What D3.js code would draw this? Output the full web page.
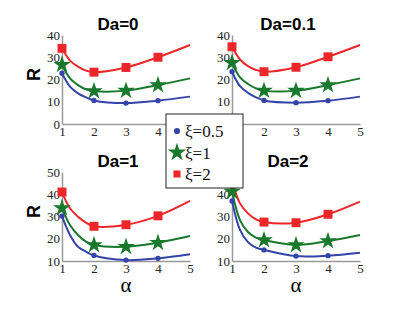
<!DOCTYPE html>
<html>
<head>
<meta charset="utf-8">
<script src="https://cdn.jsdelivr.net/npm/d3@7"></script>
<style>
  body { margin: 0; background: #fff; }
  svg { display: block; }
  .serif { font-family: "Liberation Serif", "Times New Roman", serif; }
  .sans { font-family: "Liberation Sans", Arial, sans-serif; font-weight: bold; }
</style>
</head>
<body>
<svg id="chart" width="394" height="315"></svg>
<script>
// alpha values where curve points were read, markers sit on whole alphas
var alphaCurve = [1, 1.25, 1.5, 1.75, 2, 3, 4, 5];
var markerAlphas = [1, 2, 3, 4];

// Da = 0
var da0Blue  = [22.8, 16.8, 13.8, 12.0, 10.6, 9.4, 10.5, 12.3];
var da0Green = [26.6, 20.5, 17.5, 15.6, 14.8, 15.0, 17.5, 20.5];
var da0Red   = [34.0, 28.5, 25.8, 24.0, 23.3, 25.4, 30.0, 35.5];
// Da = 0.1
var da01Blue  = [23.5, 17.0, 14.0, 12.0, 10.6, 9.6, 10.5, 12.3];
var da01Green = [27.5, 21.0, 18.0, 16.0, 15.0, 15.0, 17.5, 20.5];
var da01Red   = [34.7, 29.0, 26.0, 24.3, 23.5, 25.5, 30.2, 35.5];
// Da = 1
var da1Blue  = [30.2, 21.7, 16.4, 14.2, 12.5, 10.4, 11.2, 13.0];
var da1Green = [33.8, 26.2, 21.7, 18.7, 17.2, 16.4, 18.2, 21.2];
var da1Red   = [41.0, 33.7, 29.9, 27.2, 25.6, 26.3, 30.3, 37.0];
// Da = 2
var da2Blue  = [37.0, 24.0, 18.5, 16.0, 15.0, 12.2, 12.4, 13.7];
var da2Green = [41.2, 28.4, 23.0, 20.5, 19.4, 17.2, 19.0, 21.7];
var da2Red   = [46.0, 35.9, 31.4, 28.7, 27.5, 27.2, 31.0, 36.7];

// tick labels that show (the legend box hides a few)
var xTicks0 = [1, 2, 3, 4];
var xTicks01 = [2, 3, 4, 5];
var xTicksAll = [1, 2, 3, 4, 5];
var yTicks0 = [0, 10, 20, 30, 40];
var yTicks01 = [10, 20, 30, 40];
var yTicks1 = [10, 20, 30, 40, 50];
var yTicks2 = [10, 20, 30, 40];

var legendLabels = ["ξ=0.5", "ξ=1", "ξ=2"];
var colors = ["#3444a8", "#18782c", "#ec2629"];
var symbols = [d3.symbolCircle, d3.symbolStar, d3.symbolSquare];
var symbolSizes = [22, 95, 80];

var panels = [
  { title: "Da=0",   series: [da0Blue, da0Green, da0Red],    yDomain: [0, 40],  yTicks: yTicks0, xTicks: xTicks0,
    x0: 62, x1: 190, y0: 124, y1: 35, ylabel: true, xlabel: false },
  { title: "Da=0.1", series: [da01Blue, da01Green, da01Red], yDomain: [0, 40],  yTicks: yTicks01, xTicks: xTicks01,
    x0: 232, x1: 360, y0: 124, y1: 35, ylabel: false, xlabel: false },
  { title: "Da=1",   series: [da1Blue, da1Green, da1Red],    yDomain: [10, 50], yTicks: yTicks1, xTicks: xTicksAll,
    x0: 62, x1: 190, y0: 261, y1: 172, ylabel: true, xlabel: true },
  { title: "Da=2",   series: [da2Blue, da2Green, da2Red],    yDomain: [10, 50], yTicks: yTicks2, xTicks: xTicksAll,
    x0: 232, x1: 360, y0: 261, y1: 172, ylabel: false, xlabel: true }
];

var svg = d3.select("#chart");
svg.append("rect").attr("width", 394).attr("height", 315).attr("fill", "#fff");

panels.forEach(function(p) {
  var x = d3.scaleLinear().domain([1, 5]).range([p.x0, p.x1]);
  var y = d3.scaleLinear().domain(p.yDomain).range([p.y0, p.y1]);
  var g = svg.append("g");

  var yAxis = g.append("g")
    .attr("transform", "translate(" + p.x0 + ",0)")
    .call(d3.axisLeft(y).tickValues(p.yTicks).tickFormat(d3.format("d"))
      .tickSize(0).tickSizeOuter(0).tickPadding(2));
  var xAxis = g.append("g")
    .attr("transform", "translate(0," + p.y0 + ")")
    .call(d3.axisBottom(x).tickValues(p.xTicks).tickFormat(d3.format("d"))
      .tickSize(0).tickSizeOuter(0).tickPadding(3));

  [yAxis, xAxis].forEach(function(a) {
    a.attr("font-family", null).attr("font-size", null);
    a.select(".domain").attr("stroke", "#999").attr("stroke-width", 1.5);
    a.selectAll("text")
      .attr("class", "serif")
      .style("font-size", "13px")
      .attr("fill", "#222");
  });

  var line = d3.line()
    .x(function(d, i) { return x(alphaCurve[i]); })
    .y(function(d) { return y(d); })
    .curve(d3.curveCatmullRom.alpha(0.5));

  p.series.forEach(function(vals, k) {
    g.append("path")
      .attr("d", line(vals))
      .attr("fill", "none")
      .attr("stroke", colors[k])
      .attr("stroke-width", 2);
  });

  p.series.forEach(function(vals, k) {
    markerAlphas.forEach(function(a) {
      var v = vals[alphaCurve.indexOf(a)];
      g.append("path")
        .attr("d", d3.symbol().type(symbols[k]).size(symbolSizes[k])())
        .attr("transform", "translate(" + x(a) + "," + y(v) + ")")
        .attr("fill", colors[k]);
    });
  });

  g.append("text")
    .attr("class", "sans")
    .attr("x", (p.x0 + p.x1) / 2 - 8)
    .attr("y", p.y1 - 5)
    .attr("text-anchor", "middle")
    .style("font-size", "17px")
    .text(p.title);

  if (p.ylabel) {
    g.append("text")
      .attr("class", "sans")
      .attr("transform", "translate(40," + ((p.y0 + p.y1) / 2 - 5) + ") rotate(-90)")
      .attr("text-anchor", "middle")
      .style("font-size", "18px")
      .text("R");
  }
  if (p.xlabel) {
    g.append("text")
      .attr("class", "serif")
      .attr("x", (p.x0 + p.x1) / 2)
      .attr("y", p.y0 + 31)
      .attr("text-anchor", "middle")
      .style("font-size", "21px")
      .text("α");
  }
});

// legend box, drawn on top of the panels
var legend = svg.append("g");
legend.append("rect")
  .attr("x", 166).attr("y", 114).attr("width", 77).attr("height", 74)
  .attr("fill", "#fff").attr("stroke", "#222").attr("stroke-width", 1);

legendLabels.forEach(function(lbl, k) {
  var cy = 131 + k * 21.5;
  legend.append("path")
    .attr("d", d3.symbol().type(symbols[k]).size(k === 0 ? 30 : (k === 1 ? 105 : 50))())
    .attr("transform", "translate(177," + cy + ")")
    .attr("fill", colors[k]);
  legend.append("text")
    .attr("class", "serif")
    .attr("x", 185).attr("y", cy + 6)
    .style("font-size", "17px")
    .attr("fill", "#111")
    .text(lbl);
});
</script>
</body>
</html>
